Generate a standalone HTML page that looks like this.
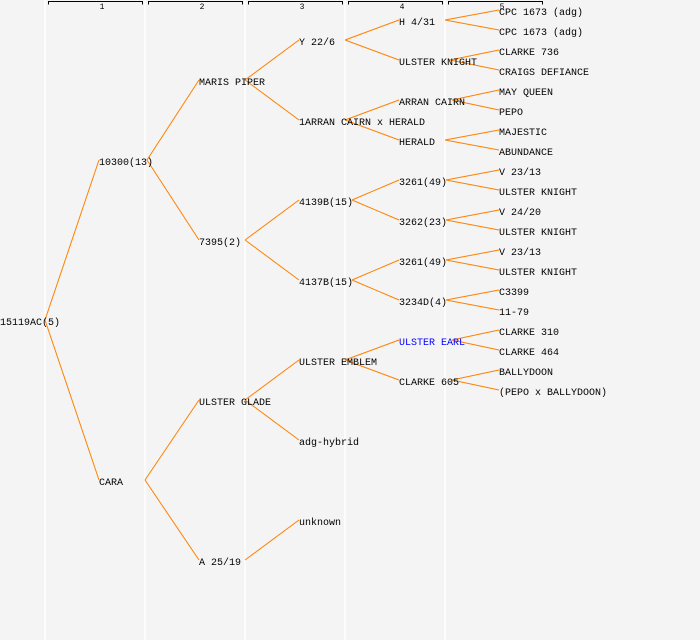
<!DOCTYPE html>
<html><head><meta charset="utf-8"><style>
html,body{margin:0;padding:0;background:#f4f4f4}
svg{display:block}
text{font-family:"Liberation Mono","DejaVu Sans Mono",monospace;font-size:10px;fill:#000}
.h{font-size:8px}
</style></head><body>
<svg width="700" height="640" viewBox="0 0 700 640">
<rect width="700" height="640" fill="#f4f4f4"/>
<g stroke="#fff" stroke-width="1.5">
<line x1="45" y1="0" x2="45" y2="640"/><line x1="145" y1="0" x2="145" y2="640"/>
<line x1="245" y1="0" x2="245" y2="640"/><line x1="345" y1="0" x2="345" y2="640"/>
<line x1="445" y1="0" x2="445" y2="640"/>
</g>
<g stroke="#000" stroke-width="1" fill="none">
<path d="M48.5 4.5V1.5H142.5V4.5"/><path d="M148.5 4.5V1.5H242.5V4.5"/>
<path d="M248.5 4.5V1.5H342.5V4.5"/><path d="M348.5 4.5V1.5H442.5V4.5"/>
<path d="M448.5 4.5V1.5H542.5V4.5"/>
</g>
<g class="h" text-anchor="middle">
<text class="h" x="102" y="9">1</text><text class="h" x="202" y="9">2</text>
<text class="h" x="302" y="9">3</text><text class="h" x="402" y="9">4</text>
<text class="h" x="502" y="9">5</text>
</g>
<g stroke="#ff8000" stroke-width="1" fill="none">
<path d="M45 320L99 160M45 320L99 480"/>
<path d="M147 160L199 80M147 160L199 240M145 480L199 400M145 480L199 560"/>
<path d="M245 80L299 40M245 80L299 120M245 240L299 200M245 240L299 280M245 400L299 360M245 400L299 440M245 560L299 520"/>
<path d="M345 40L399 20M345 40L399 60M345 120L399 100M345 120L399 140M352 200L399 180M352 200L399 220M352 280L399 260M352 280L399 300M345 360L399 340M345 360L399 380"/>
<path d="M445 20L499 10M445 20L499 30M450 60L499 50M450 60L499 70M452 100L499 90M452 100L499 110M445 140L499 130M445 140L499 150M446 180L499 170M446 180L499 190M446 220L499 210M446 220L499 230M446 260L499 250M446 260L499 270M446 300L499 290M446 300L499 310M452 340L499 330M452 340L499 350M452 380L499 370M452 380L499 390"/>
</g>
<g transform="translate(0,-1)">
<text x="0" y="326">15119AC(5)</text>
<text x="99" y="166">10300(13)</text><text x="99" y="486">CARA</text>
<text x="199" y="86">MARIS PIPER</text><text x="199" y="246">7395(2)</text>
<text x="199" y="406">ULSTER GLADE</text><text x="199" y="566">A 25/19</text>
<text x="299" y="46">Y 22/6</text><text x="299" y="126">1ARRAN CAIRN x HERALD</text>
<text x="299" y="206">4139B(15)</text><text x="299" y="286">4137B(15)</text>
<text x="299" y="366">ULSTER EMBLEM</text><text x="299" y="446">adg-hybrid</text>
<text x="299" y="526">unknown</text>
<text x="399" y="26">H 4/31</text><text x="399" y="66">ULSTER KNIGHT</text>
<text x="399" y="106">ARRAN CAIRN</text><text x="399" y="146">HERALD</text>
<text x="399" y="186">3261(49)</text><text x="399" y="226">3262(23)</text>
<text x="399" y="266">3261(49)</text><text x="399" y="306">3234D(4)</text>
<text x="399" y="346" style="fill:#0000ff">ULSTER EARL</text><text x="399" y="386">CLARKE 605</text>
<text x="499" y="16">CPC 1673 (adg)</text><text x="499" y="36">CPC 1673 (adg)</text>
<text x="499" y="56">CLARKE 736</text><text x="499" y="76">CRAIGS DEFIANCE</text>
<text x="499" y="96">MAY QUEEN</text><text x="499" y="116">PEPO</text>
<text x="499" y="136">MAJESTIC</text><text x="499" y="156">ABUNDANCE</text>
<text x="499" y="176">V 23/13</text><text x="499" y="196">ULSTER KNIGHT</text>
<text x="499" y="216">V 24/20</text><text x="499" y="236">ULSTER KNIGHT</text>
<text x="499" y="256">V 23/13</text><text x="499" y="276">ULSTER KNIGHT</text>
<text x="499" y="296">C3399</text><text x="499" y="316">11-79</text>
<text x="499" y="336">CLARKE 310</text><text x="499" y="356">CLARKE 464</text>
<text x="499" y="376">BALLYDOON</text><text x="499" y="396">(PEPO x BALLYDOON)</text>
</g>
</svg>
</body></html>
